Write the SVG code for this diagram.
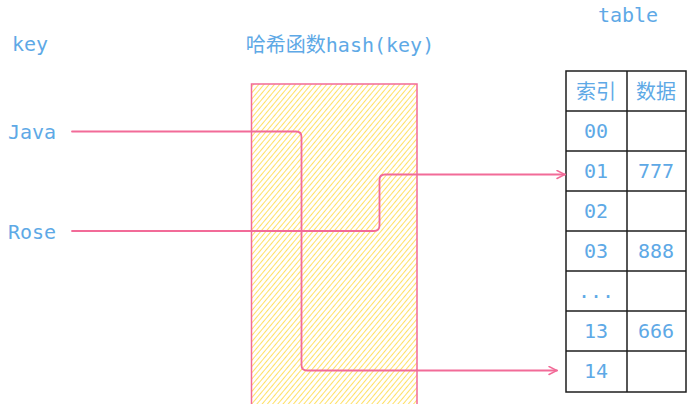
<svg xmlns="http://www.w3.org/2000/svg" width="687" height="404" viewBox="0 0 687 404">
<style>
.t{font-family:"DejaVu Sans Mono","Noto Sans CJK SC",monospace;font-size:20px;fill:#5ea9e6}
.c{text-anchor:middle}
.ln{fill:none;stroke:#f26b98;stroke-width:1.8;stroke-linecap:round;stroke-linejoin:round}
.grid{stroke:#1e1e1e;stroke-width:1.5;fill:none}
</style>
<defs>
<pattern id="hatch" patternUnits="userSpaceOnUse" width="4" height="4" patternTransform="rotate(40)">
<line x1="0" y1="0" x2="0" y2="4" stroke="#ffe066" stroke-width="2"/>
</pattern>
<marker id="arr" viewBox="0 0 10 10" refX="9" refY="5" markerWidth="10" markerHeight="10" markerUnits="userSpaceOnUse" orient="auto">
<path d="M1,1 L9,5 L1,9" fill="none" stroke="#f26b98" stroke-width="1.5" stroke-linecap="round"/>
</marker>
</defs>
<rect width="687" height="404" fill="#ffffff"/>
<text class="t" x="12" y="51">key</text>
<text class="t c" x="340" y="52">哈希函数hash(key)</text>
<text class="t c" x="628" y="22">table</text>
<g id="hash">
<rect x="251.5" y="84" width="165.5" height="330" fill="url(#hatch)" stroke="#f26b98" stroke-width="1.5"/>
</g>
<g id="keys">
<text class="t" x="8" y="139">Java</text>
<text class="t" x="8" y="239">Rose</text>
</g>
<g id="table">
<rect x="566" y="71" width="120" height="321" class="grid" fill="#fff"/>
<line x1="627" y1="71" x2="627" y2="392" class="grid"/>
<line x1="566" y1="111" x2="686" y2="111" class="grid"/>
<line x1="566" y1="151" x2="686" y2="151" class="grid"/>
<line x1="566" y1="191" x2="686" y2="191" class="grid"/>
<line x1="566" y1="231" x2="686" y2="231" class="grid"/>
<line x1="566" y1="271" x2="686" y2="271" class="grid"/>
<line x1="566" y1="311" x2="686" y2="311" class="grid"/>
<line x1="566" y1="351" x2="686" y2="351" class="grid"/>
<text class="t c" x="596" y="99">索引</text>
<text class="t c" x="656" y="99">数据</text>
<text class="t c" x="596" y="138">00</text>
<text class="t c" x="596" y="178">01</text>
<text class="t c" x="656" y="178">777</text>
<text class="t c" x="596" y="218">02</text>
<text class="t c" x="596" y="258">03</text>
<text class="t c" x="656" y="258">888</text>
<text class="t c" x="596" y="298">...</text>
<text class="t c" x="596" y="338">13</text>
<text class="t c" x="656" y="338">666</text>
<text class="t c" x="596" y="378">14</text>
</g>
<g id="connectors">
<path class="ln" d="M72,131.5 L296,131.5 Q301.5,131.5 301.5,137 L301.5,365 Q301.5,370.5 307,370.5 L557,370.5" marker-end="url(#arr)"/>
<path class="ln" d="M72,231 L374,231 Q379.5,231 379.5,225.5 L379.5,180 Q379.5,174.5 385,174.5 L565,174.5" marker-end="url(#arr)"/>
</g>
</svg>
